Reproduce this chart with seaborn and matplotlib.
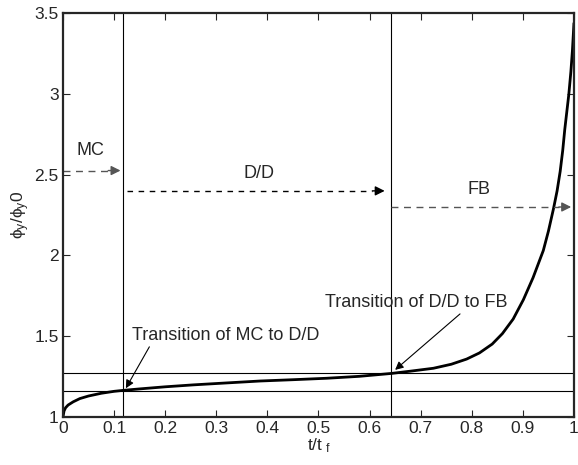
import matplotlib
matplotlib.use('Agg')
import matplotlib.pyplot as plt
import seaborn as sns
import pandas as pd

# Curve: normalised time vs phi_y / phi_y0
t_ratio = [0.0, 0.002, 0.005, 0.01, 0.02, 0.033, 0.05, 0.075, 0.1, 0.118, 0.15, 0.2, 0.255,
           0.32, 0.386, 0.45, 0.516, 0.58, 0.643, 0.68, 0.725, 0.76, 0.79, 0.815, 0.84, 0.86,
           0.881, 0.901, 0.92, 0.94, 0.95, 0.96, 0.967, 0.973, 0.978, 0.982, 0.986, 0.99,
           0.994, 0.997, 1.0]
phi_ratio = [1.0, 1.035, 1.055, 1.072, 1.092, 1.112, 1.128, 1.145, 1.157, 1.163, 1.172, 1.185, 1.197,
             1.209, 1.221, 1.229, 1.238, 1.25, 1.268, 1.282, 1.30, 1.325, 1.357, 1.395, 1.45, 1.515,
             1.605, 1.725, 1.862, 2.03, 2.15, 2.29, 2.40, 2.52, 2.65, 2.78, 2.89, 3.00,
             3.14, 3.27, 3.44]

# Transition points
t_trans = [0.118, 0.642]
phi_trans = [1.161, 1.269]

# Regime arrows
regimes = ['MC', 'D/D', 'FB']
reg_start = [0.0, 0.125, 0.642]
reg_end = [0.118, 0.635, 1.0]
reg_level = [2.526, 2.40, 2.30]
reg_label_x = [0.027, 0.384, 0.814]
reg_label_y = [2.65, 2.51, 2.41]
reg_color = ['#555555', 'black', '#555555']

sns.set_style('ticks')
plt.rcParams['font.family'] = ['Liberation Sans', 'DejaVu Sans']
plt.rcParams['mathtext.fontset'] = 'custom'
plt.rcParams['mathtext.rm'] = 'Liberation Sans'
plt.rcParams['mathtext.it'] = 'Liberation Sans'

fig = plt.figure(figsize=(5.78, 4.65), dpi=100)
ax = fig.add_axes([0.109, 0.104, 0.884, 0.867])

df = pd.DataFrame({'t': t_ratio, 'phi': phi_ratio})
sns.lineplot(data=df, x='t', y='phi', ax=ax, color='black', linewidth=2)

for xv in t_trans:
    ax.axvline(xv, color='black', linewidth=0.8)
for yv in phi_trans:
    ax.axhline(yv, color='black', linewidth=0.8)

for lab, x0, x1, yv, lx, ly, c in zip(regimes, reg_start, reg_end, reg_level,
                                       reg_label_x, reg_label_y, reg_color):
    dash = (0, (4, 4)) if lab == 'D/D' else (0, (5, 4))
    ax.plot([x0, x1 - 0.03], [yv, yv], color=c, linestyle=dash, linewidth=1)
    ax.annotate('', xy=(x1, yv), xytext=(x1 - 0.035, yv),
                arrowprops=dict(arrowstyle='-|>', color=c, lw=1, mutation_scale=14))
    ha = 'left' if lab == 'MC' else 'center'
    ax.text(lx, ly, lab, fontsize=13, ha=ha, va='center')

ax.annotate('Transition of MC to D/D', xy=(0.123, 1.176), xytext=(0.136, 1.506),
            fontsize=13, va='center', ha='left',
            arrowprops=dict(arrowstyle='-|>', color='black', lw=0.8, mutation_scale=12,
                            shrinkA=0, shrinkB=0, relpos=(0.1, 0.0)))
ax.annotate('Transition of D/D to FB', xy=(0.65, 1.29), xytext=(0.513, 1.71),
            fontsize=13, va='center', ha='left',
            arrowprops=dict(arrowstyle='-|>', color='black', lw=0.8, mutation_scale=12,
                            shrinkA=0, shrinkB=0, relpos=(0.76, 0.0)))

ax.set_xlim(0, 1)
ax.set_ylim(1, 3.5)
ax.set_xticks([0, 0.1, 0.2, 0.3, 0.4, 0.5, 0.6, 0.7, 0.8, 0.9, 1])
ax.set_xticklabels(['0', '0.1', '0.2', '0.3', '0.4', '0.5', '0.6', '0.7', '0.8', '0.9', '1'])
ax.set_yticks([1, 1.5, 2, 2.5, 3, 3.5])
ax.set_yticklabels(['1', '1.5', '2', '2.5', '3', '3.5'])
ax.tick_params(direction='in', top=True, right=True, labelsize=12.5, length=5, width=0.8, pad=3)
for sp in ax.spines.values():
    sp.set_linewidth(1.6)
ax.set_xlabel(r't/t$_{\ \mathrm{f}}$', fontsize=12.5, labelpad=0)
ax.set_ylabel(r'$\phi_y/\phi_y$0', fontsize=12.5, labelpad=2)

fig.savefig('out.png', dpi=100)
